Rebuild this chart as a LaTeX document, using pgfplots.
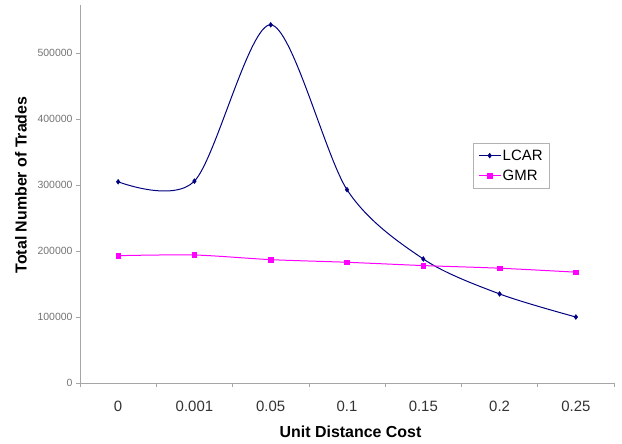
\documentclass[border=0pt]{standalone}
\usepackage{pgfplots}
\pgfplotsset{compat=1.18}
\usepackage{fontspec}
\setmainfont{Liberation Sans}
\definecolor{lcar}{HTML}{000080}
\definecolor{gmr}{HTML}{FF00FF}
\begin{document}
\begin{tikzpicture}[x=1bp,y=1bp]
\useasboundingbox (0,0) rectangle (622,444);
\begin{axis}[
  at={(80bp,61bp)}, anchor=south west,
  scale only axis, width=534bp, height=378bp,
  xmin=-0.5, xmax=6.5, ymin=0, ymax=573000,
  axis x line*=bottom, axis y line*=left,
  axis line style={gray!70, line width=0.6pt, -},
  xtick={0,...,6},
  xticklabels={0,0.001,0.05,0.1,0.15,0.2,0.25},
  major x tick style={draw=none},
  minor xtick={-0.5,0.5,...,6.5},
  minor x tick style={gray!70, line width=0.6pt},
  minor tick length=4bp,
  ytick={0,100000,...,500000},
  y tick style={gray!70, line width=0.6pt},
  major tick length=4bp,
  tick align=outside,
  scaled y ticks=false,
  /pgf/number format/assume math mode=true,
  yticklabel style={/pgf/number format/fixed,/pgf/number format/set thousands separator={}, font=\fontsize{10.5}{12}\selectfont, text=gray!90!black},
  xticklabel style={font=\fontsize{15}{17}\selectfont, text=black!80, anchor=base, yshift=-25bp},
  xlabel={\textbf{Unit Distance Cost}},
  ylabel={\textbf{Total Number of Trades}},
  xlabel style={font=\fontsize{16}{18}\selectfont, at={(axis description cs:0.5066,-0.1296)}, anchor=center},
  ylabel style={font=\fontsize{16}{18}\selectfont, at={(axis description cs:-0.1105,0.5238)}, anchor=center},
  legend style={at={(axis description cs:0.736,0.635)}, anchor=north west, draw=gray!60, font=\fontsize{15}{17}\selectfont, inner xsep=5bp, inner ysep=5bp, row sep=5bp, nodes={inner sep=1.5bp}, cells={anchor=west}},
  legend image code/.code={\draw[#1, mark repeat=2, mark phase=2] plot coordinates {(0bp,0bp) (11bp,0bp) (22bp,0bp)};},
  legend cell align=left,
  clip=false,
]
\addplot[lcar, line width=1pt, smooth, tension=0.5, mark=diamond*, mark size=2.4pt, mark options={fill=lcar, line width=0.5pt}]
  coordinates {(0,305000) (1,306000) (2,543000) (3,293000) (4,188000) (5,135000) (6,100000)};
\addlegendentry{LCAR}
\addplot[gmr, line width=1pt, smooth, tension=0.5, mark=square*, mark size=2.3pt, mark options={fill=gmr, line width=0.5pt}]
  coordinates {(0,193000) (1,194000) (2,187000) (3,183000) (4,178000) (5,174000) (6,168000)};
\addlegendentry{GMR}
\end{axis}
\end{tikzpicture}
\end{document}
